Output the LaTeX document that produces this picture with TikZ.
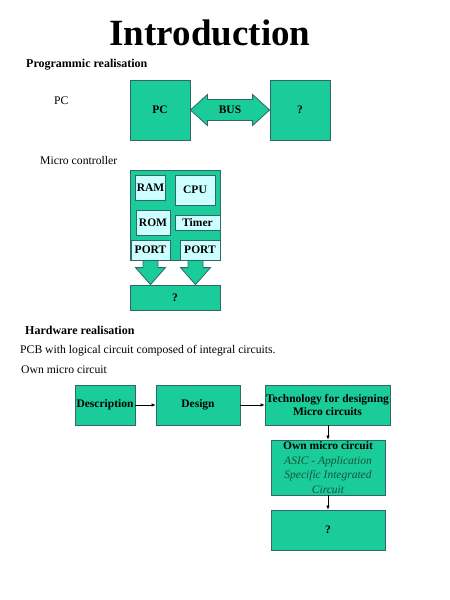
\documentclass[tikz,border=0pt]{standalone}
\usepackage{fontspec}
\setmainfont{Liberation Serif}
\usetikzlibrary{arrows.meta,calc}
\definecolor{mint}{RGB}{26,204,153}
\definecolor{edge}{RGB}{51,102,102}
\definecolor{pale}{RGB}{204,255,255}
\definecolor{asic}{RGB}{20,85,60}
\begin{document}
\begin{tikzpicture}[x=1pt,y=-1pt,
  gbox/.style={draw=edge,fill=mint,line width=0.8pt,inner sep=1pt,
    font=\fontsize{11.5}{13}\selectfont\bfseries},
  pbox/.style={gbox,fill=pale},
  fat/.style={draw=edge,fill=mint,line width=0.8pt,line join=miter},
  label/.style={anchor=west,inner sep=0pt,font=\fontsize{11.7}{14}\selectfont},
  head/.style={label,font=\fontsize{12}{14}\selectfont\bfseries},
  flow/.style={-{Latex[length=4pt,width=3.5pt]},line width=0.6pt}]
\useasboundingbox (0,0) rectangle (450,600);
\node [font=\fontsize{37}{40}\selectfont\bfseries] (title) at (210,33) {Introduction};
% programmic realisation
\node [head] (prog) at (26,65) {Programmic realisation};
\node [label] (pclabel) at (54,101) {PC};
\node [gbox,minimum width=60pt,minimum height=60pt] (pc) at (160,110) {PC};
\node [gbox,minimum width=60pt,minimum height=60pt] (dev) at (300,110) {?};
\draw [fat] (pc.east) -- ++(17,-15.5) -- ++(0,5) -- ($(dev.west)+(-17,-10.5)$)
  -- ++(0,-5) -- (dev.west) -- ++(-17,15.5) -- ++(0,-5)
  -- ($(pc.east)+(17,10.5)$) -- ++(0,5) -- cycle;
\node [font=\fontsize{11.5}{13}\selectfont\bfseries] (bus) at ($(pc.east)!.5!(dev.west)$) {BUS};
% micro controller
\node [label] (mclabel) at (40,160) {Micro controller};
\node [gbox,minimum width=90pt,minimum height=90pt] (mc) at (175,215) {};
\node [pbox,minimum width=29pt,minimum height=25pt] (ram) at (150.5,187.5) {RAM};
\node [pbox,minimum width=40pt,minimum height=30pt] (cpu) at (195,190) {CPU};
\node [pbox,minimum width=34pt,minimum height=25pt] (rom) at (153,222.5) {ROM};
\node [pbox,minimum width=45pt,minimum height=15pt] (timer) at (197.5,222.5) {Timer};
\node [pbox,minimum width=39pt,minimum height=20pt] (portl) at (150.5,250) {PORT};
\node [pbox,minimum width=40pt,minimum height=20pt] (portr) at (200,250) {PORT};
\node [gbox,minimum width=90pt,minimum height=25pt] (out) at (175,297.5) {?};
\coordinate (tl) at ($(portl.south)$);
\coordinate (tr) at ($(portr.south)+(-4.5,0)$);
\foreach \t in {tl,tr}
  \draw [fat] ($(\t)+(-7.5,0)$) -- ($(\t |- out.north)+(-7.5,-17)$)
    -- ++(-7.5,0) -- (\t |- out.north) -- ++(15,-17) -- ++(-7.5,0)
    -- ($(\t)+(7.5,0)$) -- cycle;
% hardware realisation
\node [head] (hw) at (25,330) {Hardware realisation};
\node [label] (pcb) at (20,351) {PCB with logical circuit composed of integral circuits.};
\node [label] (own) at (21,370) {Own micro circuit};
\node [gbox,minimum width=60pt,minimum height=40pt] (desc) at (105,405) {Description};
\node [gbox,minimum width=125pt,minimum height=40pt,align=center,inner sep=0pt]
  (tech) at (327.5,405) {Technology for designing\\Micro circuits};
\node [gbox,minimum width=84pt,minimum height=40pt] (design) at (198,405) {Design};
\node [gbox,minimum width=114pt,minimum height=55pt,align=center,
  font=\fontsize{11.5}{14.5}\selectfont\bfseries] (asicbox) at (328,467.5)
  {Own micro circuit\\{\color{asic}\mdseries\itshape ASIC - Application}\\
   {\color{asic}\mdseries\itshape Specific Integrated}\\{\color{asic}\mdseries\itshape Circuit}};
\node [gbox,minimum width=114pt,minimum height=40pt] (chip) at (328,530) {?};
\draw [flow] (desc) -- (design);
\draw [flow] (design) -- (tech);
\draw [flow] (tech.south -| asicbox) -- (asicbox.north);
\draw [flow] (asicbox) -- (chip);
\end{tikzpicture}
\end{document}
